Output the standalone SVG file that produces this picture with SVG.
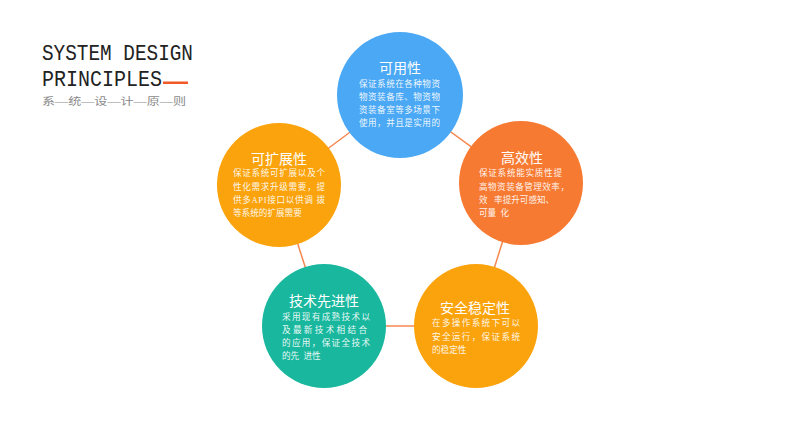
<svg xmlns="http://www.w3.org/2000/svg" width="790" height="444" viewBox="0 0 790 444">
<style>
.ttl{font-family:"Liberation Mono","DejaVu Sans Mono",monospace;font-size:22px;fill:#222}
.sub{font-family:"Liberation Serif","Noto Sans CJK SC",serif;font-size:10px;fill:#8a8a8a}
.h{font-family:"Liberation Serif","Noto Sans CJK SC",serif;font-size:14px;fill:#fff;text-anchor:middle}
.b{font-family:"Liberation Serif","Noto Sans CJK SC",serif;font-size:8.6px;fill:#fff;fill-opacity:0.92;white-space:pre}
.ln{stroke:#F7874F;stroke-width:1.5;fill:none}
</style>
<rect width="790" height="444" fill="#fff"/>
<g id="title">
<text class="ttl" x="42" y="60" textLength="151" lengthAdjust="spacingAndGlyphs">SYSTEM DESIGN</text>
<text class="ttl" x="42" y="86" textLength="120" lengthAdjust="spacingAndGlyphs">PRINCIPLES</text>
<rect x="163" y="81.5" width="25" height="2.5" fill="#F05A28"/>
<text class="sub" x="42" y="105" textLength="144" lengthAdjust="spacingAndGlyphs">系—统—设—计—原—则</text>
</g>
<g id="connectors">
<line class="ln" x1="400" y1="95" x2="521" y2="183"/>
<line class="ln" x1="400" y1="95" x2="279" y2="185"/>
<line class="ln" x1="279" y1="185" x2="324" y2="326"/>
<line class="ln" x1="521" y1="183" x2="476" y2="326"/>
<line class="ln" x1="324" y1="326" x2="476" y2="326"/>
</g>
<g id="node-usability">
<circle cx="400" cy="95" r="63" fill="#4AA8F5"/>
<text class="h" x="400" y="73">可用性</text>
<text class="b" x="359" y="87" textLength="81">保证系统在各种物资</text>
<text class="b" x="359" y="100" textLength="81">物资装备库、物资物</text>
<text class="b" x="359" y="113" textLength="81">资装备室等多场景下</text>
<text class="b" x="359" y="126" textLength="81">使用，并且是实用的</text>
</g>
<g id="node-efficiency">
<circle cx="521" cy="183" r="62" fill="#F77A32"/>
<text class="h" x="522" y="163">高效性</text>
<text class="b" x="479" y="176" textLength="83">保证系统能实质性提</text>
<text class="b" x="479" y="190" textLength="90">高物资装备管理效率，</text>
<text class="b" x="479" y="203">效   率提升可感知、</text>
<text class="b" x="479" y="216">可量  化</text>
</g>
<g id="node-scalability">
<circle cx="279" cy="185" r="62" fill="#FBA30C"/>
<text class="h" x="279" y="164">可扩展性</text>
<text class="b" x="233" y="176" textLength="92">保证系统可扩展以及个</text>
<text class="b" x="233" y="190" textLength="92">性化需求升级需要，提</text>
<text class="b" x="233" y="203" textLength="92">供多API接口以供调 拨</text>
<text class="b" x="233" y="216">等系统的扩展需要</text>
</g>
<g id="node-advanced">
<circle cx="324" cy="326" r="62" fill="#19B89E"/>
<text class="h" x="324" y="306">技术先进性</text>
<text class="b" x="282" y="320" textLength="88">采用现有成熟技术以</text>
<text class="b" x="282" y="333" textLength="85">及最新技术相结合</text>
<text class="b" x="282" y="346" textLength="88">的应用，保证全技术</text>
<text class="b" x="282" y="359">的先  进性</text>
</g>
<g id="node-stability">
<circle cx="476" cy="326" r="62" fill="#FBA30C"/>
<text class="h" x="475" y="313">安全稳定性</text>
<text class="b" x="432" y="326" textLength="88">在多操作系统下可以</text>
<text class="b" x="432" y="340" textLength="88">安全运行，保证系统</text>
<text class="b" x="432" y="353">的稳定性</text>
</g>
</svg>
